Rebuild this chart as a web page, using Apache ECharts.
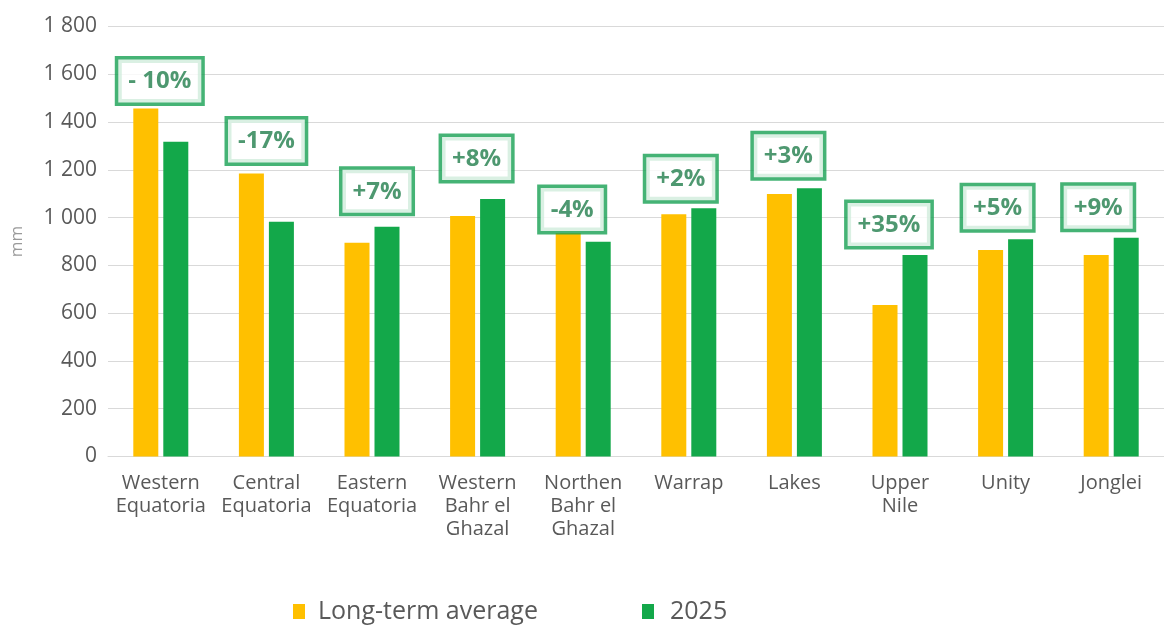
<!DOCTYPE html>
<html>
<head>
<meta charset="utf-8">
<script src="https://cdn.jsdelivr.net/npm/echarts@6/dist/echarts.min.js"></script>
<style>
  html, body { margin: 0; padding: 0; background: #ffffff; }
  #chart { width: 1164px; height: 628px; }
</style>
</head>
<body>
<div id="chart"></div>
<script>
// Rainfall by state: long-term average vs 2025 (mm)
const states = [
  'Western\nEquatoria', 'Central\nEquatoria', 'Eastern\nEquatoria',
  'Western\nBahr el\nGhazal', 'Northen\nBahr el\nGhazal', 'Warrap',
  'Lakes', 'Upper\nNile', 'Unity', 'Jonglei'
];
const longTermAverage = [1457, 1185, 895, 1007, 936, 1014, 1099, 634, 864, 843];
const rain2025 = [1318, 983, 962, 1078, 899, 1039, 1123, 843, 909, 916];
const changeLabels = ['- 10%', '-17%', '+7%', '+8%', '-4%', '+2%', '+3%', '+35%', '+5%', '+9%'];
const yTicks = [0, 200, 400, 600, 800, 1000, 1200, 1400, 1600, 1800];

// Pixel nudges for the change callouts, [dx, dy]
const calloutNudge = [[-1, 3], [0, -2], [5, -5], [-1, -10], [-11, 7], [-8, 1], [-6, -2], [-11, 0], [-8, -1], [-13, 0]];

const FONT = '"Open Sans", "Noto Sans", sans-serif';
const YELLOW = '#FFC000';
const GREEN = '#13A84A';
const BOX_GREEN = '#17A052';
const TEXT_GREEN = '#227E4C';

const fmt = v => String(v).replace(/\B(?=(\d{3})+(?!\d))/g, ' ');

const callouts = states.map((s, i) => ({
  value: [i, Math.max(longTermAverage[i], rain2025[i])],
  label: { offset: calloutNudge[i] }
}));

const chart = echarts.init(document.getElementById('chart'), null, { renderer: 'canvas' });
chart.setOption({
  animation: false,
  backgroundColor: '#ffffff',
  textStyle: { fontFamily: FONT },
  grid: { left: 108, top: 26.5, width: 1068, height: 430 },
  legend: [
    {
      data: ['Long-term average'], left: 288, top: 594,
      icon: 'rect', itemWidth: 12, itemHeight: 15,
      textStyle: { fontFamily: FONT, fontSize: 25, color: '#595959', padding: [0, 0, 0, 8] }
    },
    {
      data: ['2025'], left: 637, top: 594,
      icon: 'rect', itemWidth: 12, itemHeight: 15,
      textStyle: { fontFamily: FONT, fontSize: 25, color: '#595959', padding: [0, 0, 0, 11] }
    }
  ],
  xAxis: {
    type: 'category',
    data: states,
    axisLine: { show: true, lineStyle: { color: '#d9d9d9', width: 1 } },
    axisTick: { show: false },
    axisLabel: {
      interval: 0, margin: 15, fontFamily: FONT, fontSize: 20,
      lineHeight: 23, color: '#595959'
    }
  },
  yAxis: {
    type: 'value',
    min: 0, max: 1800, interval: 200,
    name: 'mm',
    nameLocation: 'middle',
    nameRotate: 90,
    nameGap: 82,
    nameTextStyle: { fontFamily: FONT, fontSize: 17, color: '#9a9a9a' },
    axisLine: { show: false },
    axisTick: { show: false },
    splitLine: { lineStyle: { color: '#d9d9d9', width: 1 } },
    axisLabel: {
      margin: 11, fontFamily: FONT, fontSize: 21, color: '#595959',
      formatter: v => yTicks.includes(v) ? fmt(v) : ''
    }
  },
  series: [
    {
      name: 'Long-term average', type: 'bar', data: longTermAverage,
      barWidth: 25, barGap: '20%', itemStyle: { color: YELLOW }, z: 2
    },
    {
      name: '2025', type: 'bar', data: rain2025,
      barWidth: 25, itemStyle: { color: GREEN }, z: 2
    },
    {
      name: 'change', type: 'scatter', data: callouts,
      symbolSize: 0, silent: true, z: 5,
      label: {
        show: true, position: 'top', distance: 9,
        formatter: p => changeLabels[p.dataIndex],
        fontFamily: FONT, fontSize: 24, fontWeight: 'bold', color: TEXT_GREEN,
        backgroundColor: '#ffffff',
        borderColor: BOX_GREEN, borderWidth: 3.5,
        padding: [10, 10, 9, 10]
      }
    }
  ]
});
</script>
</body>
</html>
